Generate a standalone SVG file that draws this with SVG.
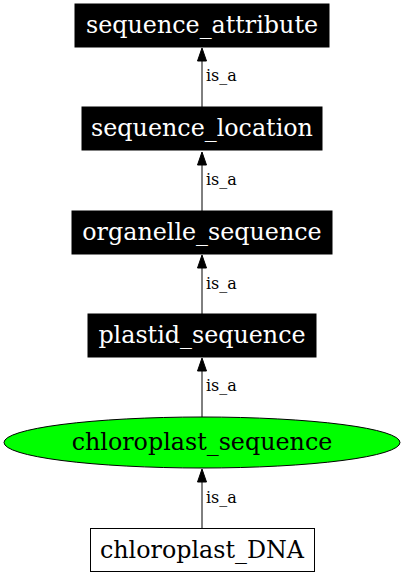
<svg xmlns="http://www.w3.org/2000/svg" width="404" height="576" viewBox="0 0 404 576">
<style>
.bx{fill:#000;stroke:#000}
.t{font-family:"DejaVu Serif",serif;font-size:23.8px;text-anchor:middle}
.w{fill:#fff}
.k{fill:#000}
.lbl{font-family:"DejaVu Serif",serif;font-size:16px;fill:#000}
.e{stroke:#000;stroke-width:1;fill:none}
.ah{fill:#000;stroke:#000}
</style>
<rect width="404" height="576" fill="#fff"/>
<g id="connectors">
<line class="e" x1="202" y1="107" x2="202" y2="61"/>
<path class="ah" d="M197.5,61 L202,48 L206.5,61 Z"/>
<text class="lbl" x="206" y="81">is_a</text>
<line class="e" x1="202" y1="211" x2="202" y2="165"/>
<path class="ah" d="M197.5,165 L202,152 L206.5,165 Z"/>
<text class="lbl" x="206" y="185">is_a</text>
<line class="e" x1="202" y1="314" x2="202" y2="268"/>
<path class="ah" d="M197.5,268 L202,255 L206.5,268 Z"/>
<text class="lbl" x="206" y="289">is_a</text>
<line class="e" x1="202" y1="417" x2="202" y2="371"/>
<path class="ah" d="M197.5,371 L202,358 L206.5,371 Z"/>
<text class="lbl" x="206" y="391">is_a</text>
<line class="e" x1="202" y1="528" x2="202" y2="482"/>
<path class="ah" d="M197.5,482 L202,469 L206.5,482 Z"/>
<text class="lbl" x="206" y="503">is_a</text>
</g>
<g id="sequence_attribute">
<rect class="bx" x="75" y="4" width="254" height="43"/>
<text class="t w" x="202" y="33">sequence_attribute</text>
</g>
<g id="sequence_location">
<rect class="bx" x="82" y="107" width="240" height="43"/>
<text class="t w" x="202" y="136">sequence_location</text>
</g>
<g id="organelle_sequence">
<rect class="bx" x="72" y="211" width="260" height="43"/>
<text class="t w" x="202" y="240">organelle_sequence</text>
</g>
<g id="plastid_sequence">
<rect class="bx" x="88" y="314" width="228" height="43"/>
<text class="t w" x="202" y="343">plastid_sequence</text>
</g>
<g id="chloroplast_sequence">
<ellipse cx="202" cy="442.5" rx="198" ry="25.5" fill="#00ff00" stroke="#000"/>
<text class="t k" x="202" y="450">chloroplast_sequence</text>
</g>
<g id="chloroplast_DNA">
<rect x="90.5" y="528.5" width="224" height="43" fill="#fff" stroke="#000"/>
<text class="t k" x="202" y="558">chloroplast_DNA</text>
</g>
</svg>
